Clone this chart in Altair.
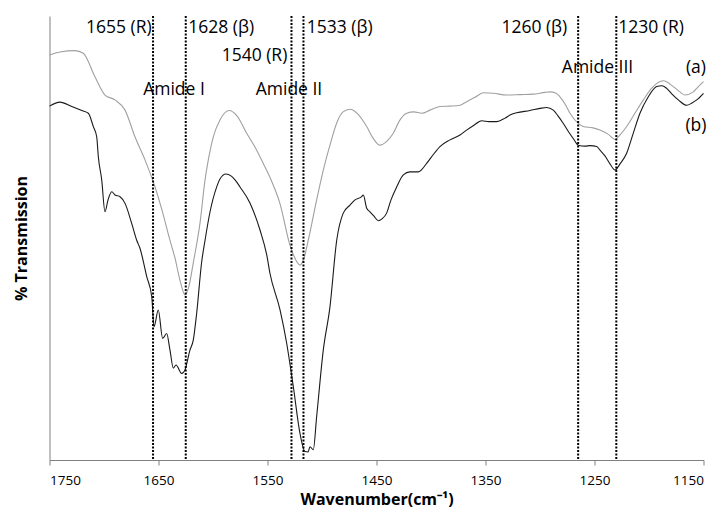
import altair as alt
import pandas as pd

# Spectrum (a) - grey
wn_a = [1750, 1740.4, 1726.6, 1719.0, 1708.3, 1699.1, 1689.9, 1680.7, 1671.6, 1662.4,
        1653.2, 1646.8, 1639.5, 1634.9, 1630.3, 1625.7, 1622.0, 1618.1, 1611.9, 1607.3,
        1604.3, 1599.7, 1593.6, 1585.1, 1578.0, 1569.1, 1561.5, 1553.9, 1545.9, 1538.5,
        1529.4, 1523.9, 1520.2, 1516.5, 1512.6, 1504.9, 1498.8, 1492.7, 1486.5, 1480.7,
        1474.3, 1467.0, 1459.0, 1453.2, 1446.8, 1440.4, 1434.6, 1428.4, 1422.3, 1415.6,
        1408.5, 1400.9, 1391.8, 1382.6, 1373.4, 1367.3, 1359.6, 1352.0, 1342.9, 1330.6,
        1318.4, 1306.2, 1295.4, 1290.8, 1285.3, 1281.7, 1277.1, 1272.5, 1264.9, 1260.3,
        1251.4, 1245.0, 1237.6, 1231.2, 1226.6, 1220.5, 1212.9, 1205.2, 1197.3, 1186.9,
        1177.7, 1171.6, 1167.0, 1159.4, 1155.1, 1150]
t_a = [91.2, 91.9, 92.2, 91.6, 86.3, 82.2, 81.1, 78.8, 72.8, 67.6,
       61.5, 56.3, 49.5, 45.5, 40.5, 37.2, 39.2, 44.4, 53.4, 63.1,
       67.6, 72.8, 76.6, 78.7, 77.5, 73.6, 70.5, 66.8, 62.6, 57.7,
       48.4, 45.0, 43.9, 45.5, 49.5, 58.6, 65.3, 70.9, 75.9, 78.4,
       79.0, 77.9, 75.1, 72.5, 70.9, 71.8, 73.6, 76.6, 78.1, 78.4,
       78.1, 78.8, 79.6, 79.7, 79.9, 80.7, 81.7, 82.7, 82.6, 82.2,
       82.3, 82.4, 82.8, 82.9, 82.6, 81.8, 80.2, 78.1, 75.8, 75.1,
       74.8, 74.3, 73.4, 72.2, 73.2, 75.1, 78.1, 81.1, 83.8, 85.4,
       84.1, 82.9, 82.2, 82.9, 84.0, 85.2]

# Spectrum (b) - black
wn_b = [1750, 1740.4, 1729.6, 1720.5, 1714.4, 1709.8, 1706.7, 1705.2, 1702.1, 1699.1,
        1696.3, 1692.9, 1689.9, 1685.3, 1680.7, 1674.6, 1670.0, 1667.0, 1660.8, 1656.2,
        1654.1, 1650.2, 1646.2, 1642.5, 1639.5, 1636.4, 1633.9, 1628.7, 1625.7, 1621.1,
        1618.1, 1615.0, 1610.4, 1607.3, 1602.8, 1596.6, 1593.6, 1588.1, 1583.5, 1579.8,
        1575.2, 1566.1, 1556.9, 1550.7, 1547.7, 1538.5, 1532.4, 1526.3, 1520.2, 1515.6,
        1512.8, 1511.0, 1508.0, 1504.9, 1498.8, 1492.7, 1486.5, 1480.5, 1474.3, 1469.7,
        1463.6, 1462.1, 1459.0, 1456.0, 1452.3, 1448.4, 1445.0, 1440.7, 1436.7, 1431.5,
        1425.4, 1419.3, 1411.7, 1404.0, 1398.2, 1391.8, 1382.6, 1373.4, 1367.3, 1360.6,
        1353.5, 1346.8, 1339.7, 1332.1, 1327.5, 1321.4, 1309.2, 1300.0, 1293.9, 1287.8,
        1283.5, 1278.6, 1274.3, 1269.5, 1264.9, 1258.7, 1254.1, 1248.0, 1245.0, 1240.4,
        1235.8, 1231.2, 1226.6, 1220.5, 1214.7, 1208.3, 1200.9, 1193.0, 1188.1, 1183.8,
        1178.9, 1173.1, 1165.4, 1160.6, 1156.2, 1150]
t_b = [79.7, 80.6, 79.6, 78.7, 78.1, 75.1, 72.8, 68.3, 63.1, 55.9,
       58.6, 60.4, 59.7, 59.3, 57.8, 53.3, 49.5, 47.7, 41.3, 36.8,
       30.0, 33.8, 27.4, 28.5, 24.8, 20.7, 21.4, 19.5, 20.3, 24.8,
       27.0, 33.0, 44.6, 49.5, 55.8, 61.5, 63.3, 64.4, 64.0, 63.1,
       61.5, 57.9, 51.8, 46.2, 42.0, 33.8, 26.3, 16.5, 6.0, 1.9,
       1.8, 3.0, 2.3, 9.8, 24.8, 34.5, 49.5, 55.6, 57.4, 58.6,
       59.3, 59.7, 56.7, 55.9, 54.9, 53.9, 54.3, 55.6, 58.6, 61.5,
       64.2, 64.9, 64.9, 66.8, 68.7, 70.6, 72.1, 73.2, 74.3, 75.4,
       76.4, 76.2, 76.2, 77.0, 77.7, 78.2, 78.7, 79.2, 79.4, 78.8,
       77.5, 75.8, 74.1, 72.4, 70.9, 70.7, 70.8, 70.6, 69.8, 68.5,
       66.7, 65.3, 66.7, 69.1, 73.4, 78.1, 81.7, 84.1, 84.3, 83.7,
       82.4, 81.1, 79.9, 80.4, 81.1, 82.6]

# Marker lines (positions as drawn)
marker_wn = [1655, 1625, 1528, 1517, 1265, 1230]

# Annotation texts
lab_right = ["1655 (R)", "1540 (R)", "1260 (β)"]
lab_right_wn = [1656.2, 1531.8, 1275.0]
lab_right_t = [97.3, 90.9, 97.3]

lab_left = ["1628 (β)", "1533 (β)", "1230 (R)"]
lab_left_wn = [1622.7, 1514.0, 1228.2]
lab_left_t = [97.3, 97.3, 97.3]

lab_center = ["Amide I", "Amide II", "Amide III", "(a)", "(b)"]
lab_center_wn = [1635.8, 1530.3, 1247.2, 1156.9, 1156.9]
lab_center_t = [83.3, 83.3, 88.4, 88.2, 75.3]

FONT = "Open Sans"

df = pd.concat([
    pd.DataFrame({"wn": wn_a, "t": t_a, "s": "a"}),
    pd.DataFrame({"wn": wn_b, "t": t_b, "s": "b"}),
])

xscale = alt.Scale(domain=[1150, 1750], reverse=True, nice=False, zero=False)
yscale = alt.Scale(domain=[0, 100], nice=False, zero=False)

xaxis = alt.Axis(values=[1750, 1650, 1550, 1450, 1350, 1250, 1150], format="d",
                 title="Wavenumber(cm⁻¹)", grid=False, tickSize=5,
                 labelPadding=8, titlePadding=5, domainColor="#808080",
                 tickColor="#808080", labelFontSize=13.5, labelColor="#000000",
                 titleFontSize=16, titleFontWeight="bold", labelFont=FONT,
                 titleFont=FONT, titleColor="#000000")
yaxis = alt.Axis(title="% Transmission", grid=False, ticks=False, labels=False,
                 domainColor="#808080", titleFontSize=16, titleFontWeight="bold",
                 titleFont=FONT, titlePadding=20, titleColor="#000000")

lines = alt.Chart(df).mark_line(strokeWidth=1.1, interpolate="monotone").encode(
    x=alt.X("wn:Q", scale=xscale, axis=xaxis),
    y=alt.Y("t:Q", scale=yscale, axis=yaxis),
    color=alt.Color("s:N", scale=alt.Scale(domain=["a", "b"], range=["#a0a0a0", "#1a1a1a"]),
                    legend=None),
    order=alt.Order("s:N"),
)

rules = alt.Chart(pd.DataFrame({"wn": marker_wn})).mark_rule(
    color="#000000", strokeWidth=2, strokeDash=[2, 1.5]
).encode(x=alt.X("wn:Q", scale=xscale))

def text_layer(labels, wns, ts, align):
    d = pd.DataFrame({"label": labels, "wn": wns, "t": ts})
    return alt.Chart(d).mark_text(align=align, baseline="middle", font=FONT,
                                  fontSize=17.5, color="#000000").encode(
        x=alt.X("wn:Q", scale=xscale),
        y=alt.Y("t:Q", scale=yscale),
        text="label:N",
    )

chart = alt.layer(
    lines,
    rules,
    text_layer(lab_right, lab_right_wn, lab_right_t, "right"),
    text_layer(lab_left, lab_left_wn, lab_left_t, "left"),
    text_layer(lab_center, lab_center_wn, lab_center_t, "center"),
).properties(
    width=654, height=444,
    autosize=alt.AutoSizeParams(type="none"),
    padding={"left": 41.5, "top": 8, "right": 9.5, "bottom": 51},
).configure_view(strokeWidth=0)

chart.save("out.html", embed_options={"renderer": "svg", "actions": False})
